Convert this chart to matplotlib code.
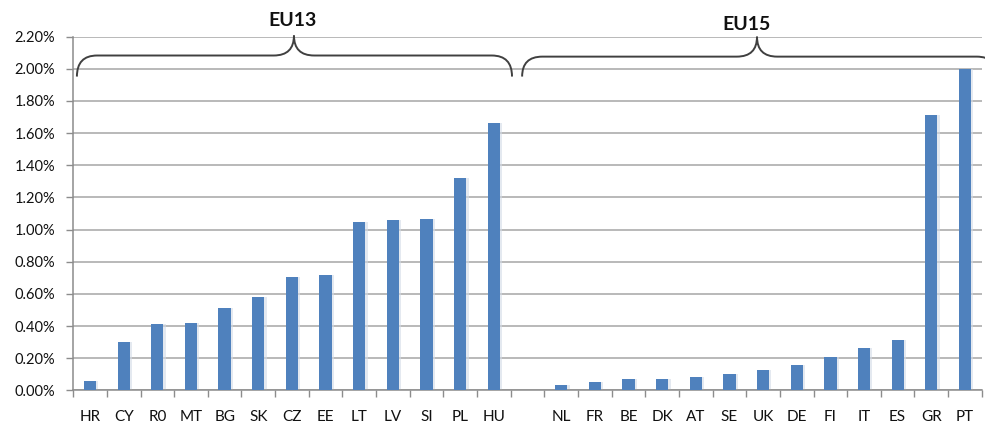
import matplotlib
matplotlib.use("Agg")
import matplotlib.pyplot as plt
from matplotlib.path import Path
from matplotlib.patches import PathPatch
import numpy as np

# ---- data ----
eu13_labels = ["HR", "CY", "R0", "MT", "BG", "SK", "CZ", "EE", "LT", "LV", "SI", "PL", "HU"]
eu13_values = [0.056, 0.30, 0.415, 0.42, 0.51, 0.58, 0.705, 0.72, 1.047, 1.058, 1.066, 1.32, 1.66]
eu15_labels = ["NL", "FR", "BE", "DK", "AT", "SE", "UK", "DE", "FI", "IT", "ES", "GR", "PT"]
eu15_values = [0.031, 0.05, 0.073, 0.073, 0.081, 0.104, 0.125, 0.158, 0.206, 0.265, 0.31, 1.714, 2.00]
group_names = ["EU13", "EU15"]
y_ticks = [0.0, 0.2, 0.4, 0.6, 0.8, 1.0, 1.2, 1.4, 1.6, 1.8, 2.0, 2.2]

plt.rcParams['font.family'] = ['Lato', 'DejaVu Sans']

W, H = 985, 426
fig = plt.figure(figsize=(W / 100, H / 100), dpi=100)
ax = fig.add_axes([73.2 / W, 35.7 / H, (981.8 - 73.2) / W, (390.3 - 36.7) / H])

labels = eu13_labels + [""] + eu15_labels
values = eu13_values + [np.nan] + eu15_values
x = np.arange(len(labels))

bar_color = "#4F81BD"
# subtle shadow
ax.bar(x + 0.04, values, width=0.42, color="#d3dbe6", alpha=0.6, zorder=2, linewidth=0)
ax.bar(x, values, width=0.365, color=bar_color, zorder=3, linewidth=0)

ax.set_xlim(-0.5, len(labels) - 0.5)
ax.set_ylim(0, 2.2)
ax.set_yticks(y_ticks)
ax.set_yticklabels([f"{v:.2f}%" for v in y_ticks], fontsize=10.5, color="#111111")
ax.yaxis.grid(True, color="#a6a6a6", linewidth=1.1, zorder=0)
ax.set_axisbelow(True)

ax.set_xticks(x)
ax.set_xticklabels(labels, fontsize=11, color="#111111")
ax.set_xticks(np.arange(-0.5, len(labels)), minor=True)
ax.tick_params(axis="x", which="major", length=0, pad=14)
ax.tick_params(axis="x", which="minor", length=5, color="#8c8c8c", width=1)
ax.tick_params(axis="y", length=5, color="#8c8c8c", width=1, pad=8)

for s in ["top", "right"]:
    ax.spines[s].set_visible(False)
for s in ["left", "bottom"]:
    ax.spines[s].set_color("#8c8c8c")
    ax.spines[s].set_linewidth(1.1)


def brace(x0, x1, xm, y_end, y_flat, y_tip, r):
    verts = [(x0, y_end), (x0, y_flat), (x0 + r, y_flat),
             (xm - r, y_flat),
             (xm, y_flat), (xm, y_tip),
             (xm, y_tip), (xm, y_flat), (xm + r, y_flat),
             (x1 - r, y_flat),
             (x1, y_flat), (x1, y_end)]
    codes = [Path.MOVETO, Path.CURVE3, Path.CURVE3,
             Path.LINETO,
             Path.CURVE3, Path.CURVE3,
             Path.MOVETO, Path.CURVE3, Path.CURVE3,
             Path.LINETO,
             Path.CURVE3, Path.CURVE3]
    p = PathPatch(Path(verts, codes), fill=False, edgecolor="#404040",
                  linewidth=1.4, clip_on=False, zorder=5)
    ax.add_patch(p)

brace(-0.39, 12.54, 6.06, 1.952, 2.083, 2.207, 0.6)
brace(12.84, 26.95, 19.82, 1.952, 2.076, 2.20, 0.6)

fig.text(292.5 / W, 1 - 20 / H, group_names[0], fontsize=14, fontweight="bold",
         ha="center", va="center", color="#111111")
fig.text(747 / W, 1 - 25 / H, group_names[1], fontsize=14, fontweight="bold",
         ha="center", va="center", color="#111111")

fig.savefig("out.png", dpi=100)
